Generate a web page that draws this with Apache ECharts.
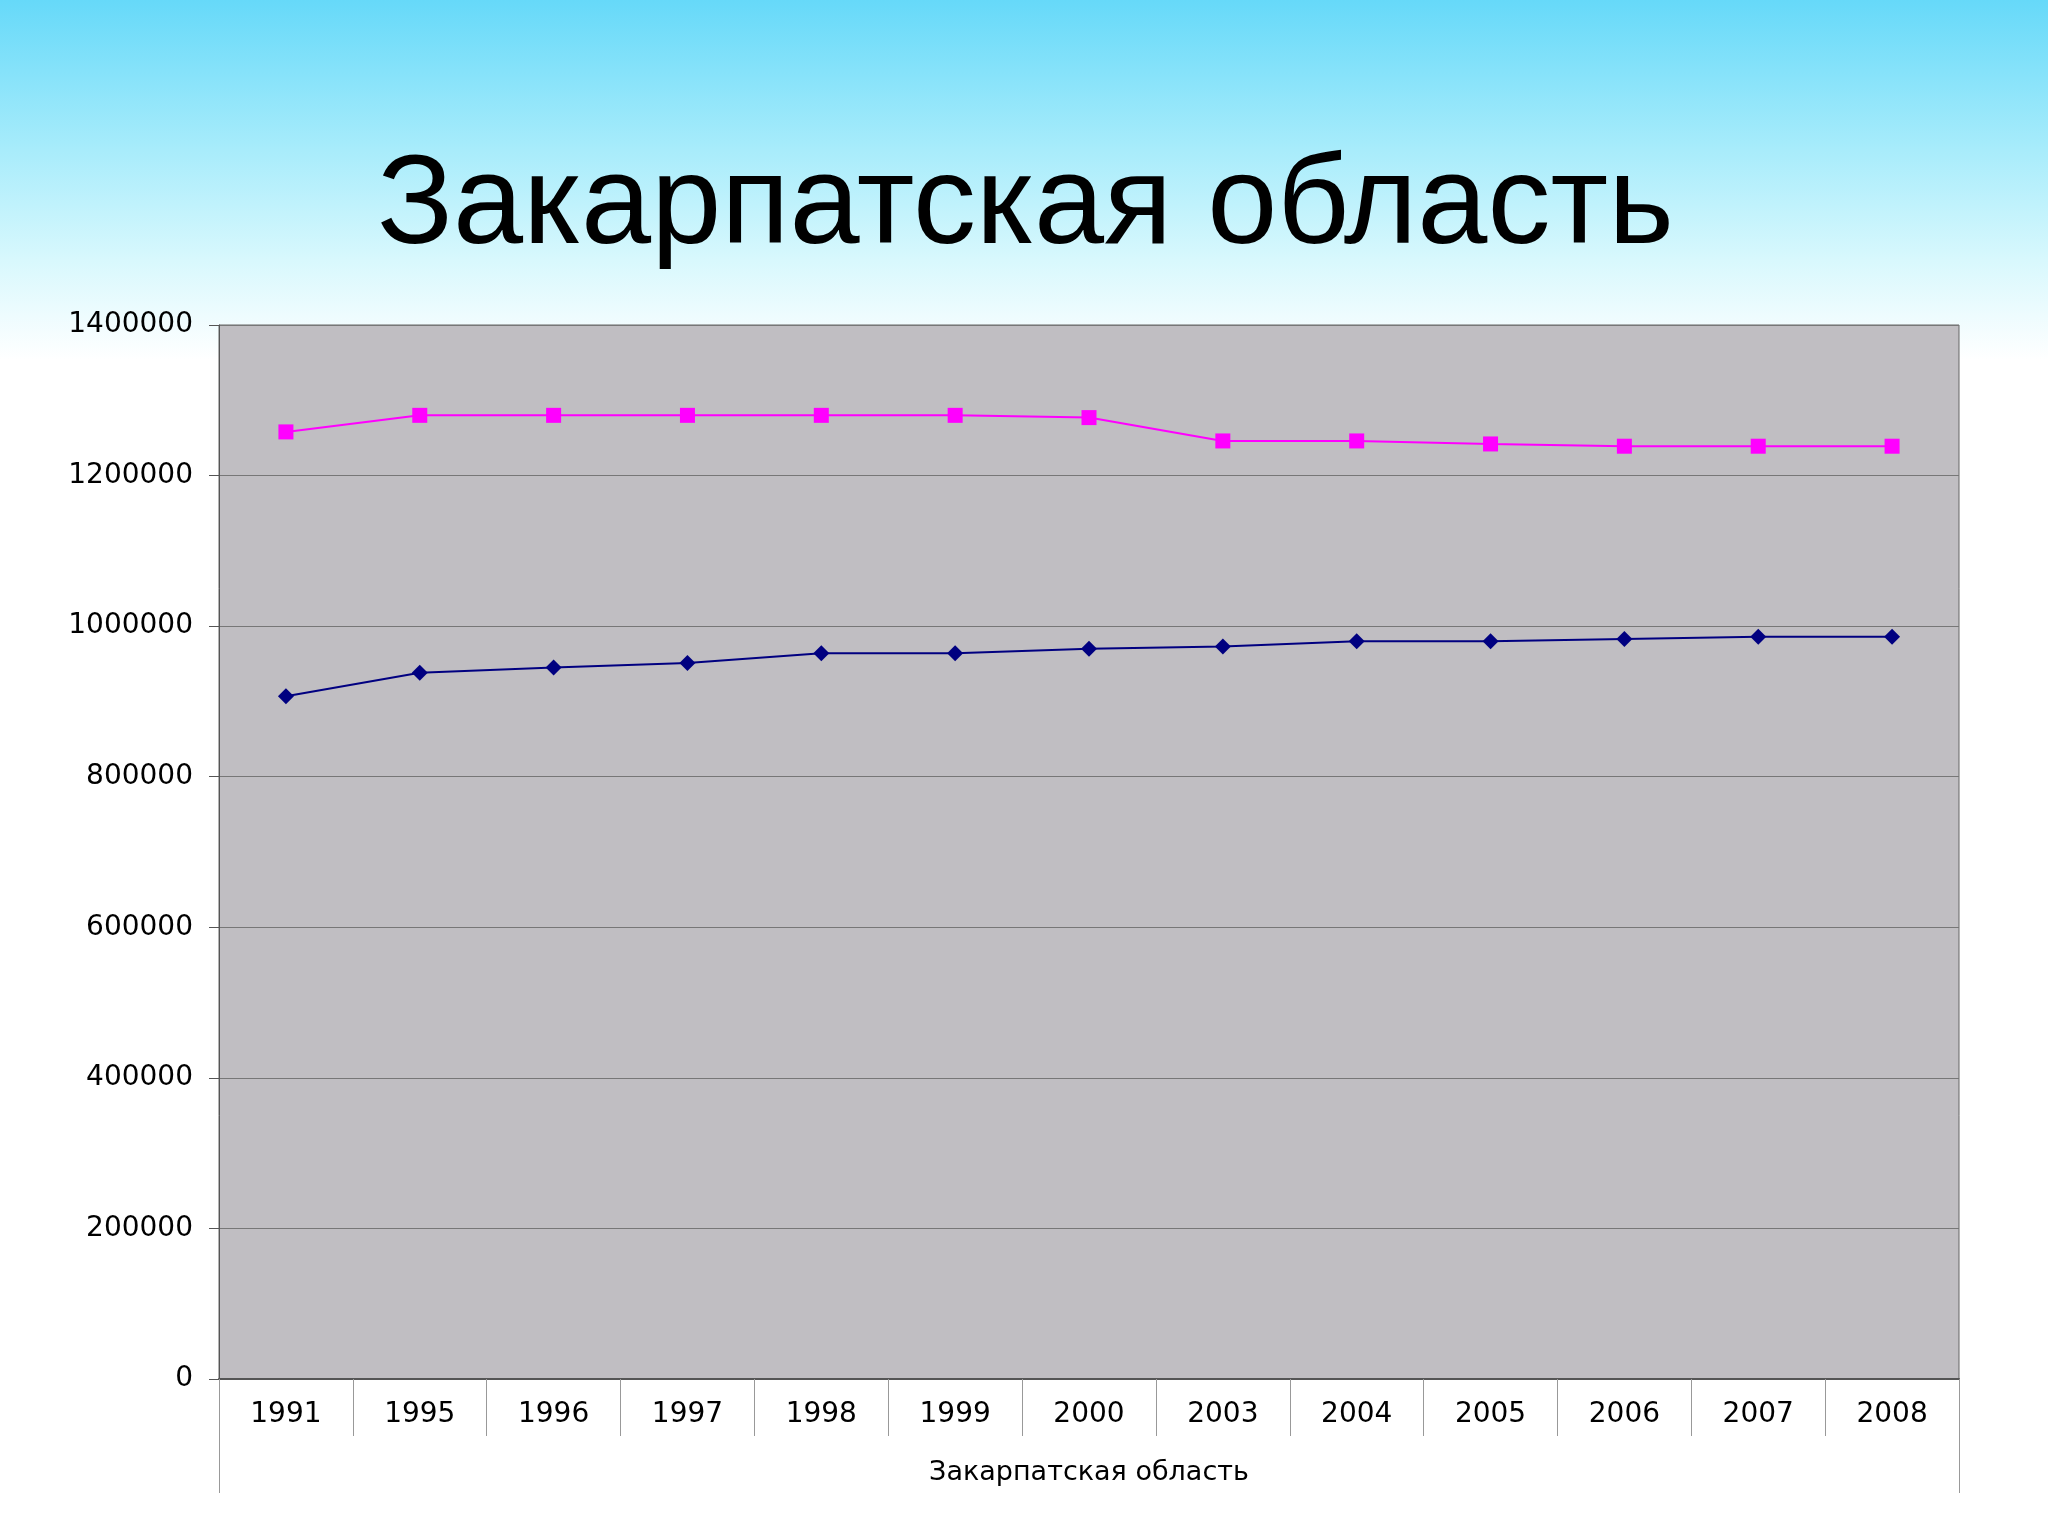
<!DOCTYPE html>
<html>
<head>
    <meta charset="utf-8">
    <title>Закарпатская область</title>
    <script src="https://cdn.jsdelivr.net/npm/echarts@6/dist/echarts.min.js"></script>
    <style>
        html, body { margin: 0; padding: 0; }
        body { background: linear-gradient(to bottom, #66d9f9 0px, #a8ecfb 150px, #d8f8fd 260px, #ffffff 360px); }
    </style>
</head>
<body>
<div id="chart" style="width: 2048px;height: 1536px"></div>
<script>
    // годы
    var years = ['1991','1995','1996','1997','1998','1999','2000','2003','2004','2005','2006','2007','2008'];
    // розовая линия (квадраты)
    var pinkValues = [1258000,1280000,1280000,1280000,1280000,1280000,1277000,1246000,1246000,1242000,1239000,1239000,1239000];
    // синяя линия (ромбы)
    var blueValues = [907000,938000,945000,951000,964000,964000,970000,973000,980000,980000,983000,986000,986000];

    var myChart = echarts.init(document.getElementById('chart'));
    var font = 'Liberation Sans, Arial, sans-serif';
    var axisFont = 'DejaVu Sans, sans-serif';
    myChart.setOption({
        animation: false,
        backgroundColor: 'transparent',
        title: {
            text: 'Закарпатская область',
            left: 372,
            top: 140,
            textStyle: { fontFamily: font, fontSize: 126, fontWeight: 'normal', color: '#000' }
        },
        grid: { left: 219, right: 89, top: 325, bottom: 157, backgroundColor: '#c0bec2', show: true, borderColor: '#666', borderWidth: 1 },
        xAxis: [{
            type: 'category',
            data: years,
            axisLine: { lineStyle: { color: '#555', width: 2 } },
            axisTick: { show: true, interval: 0, length: 57, lineStyle: { color: '#999' } },
            axisLabel: { fontFamily: axisFont, fontSize: 28, color: '#000', margin: 22 }
        }, {
            type: 'category',
            data: ['Закарпатская область'],
            position: 'bottom',
            axisLine: { show: false },
            axisTick: { show: true, interval: 0, length: 114, lineStyle: { color: '#999' } },
            axisLabel: { fontFamily: axisFont, fontSize: 27, color: '#000', margin: 80 }
        }],
        yAxis: {
            type: 'value',
            min: 0,
            max: 1400000,
            interval: 200000,
            axisLine: { show: true, lineStyle: { color: '#555' } },
            axisTick: { show: true, length: 10, lineStyle: { color: '#555' } },
            axisLabel: { fontFamily: axisFont, fontSize: 28, color: '#000', margin: 26, formatter: function (v) { return String(v); } },
            splitLine: { lineStyle: { color: '#777', width: 1 } }
        },
        series: [{
            type: 'line',
            data: pinkValues,
            color: '#ff00ff',
            symbol: 'rect',
            symbolSize: 15,
            lineStyle: { width: 2, color: '#ff00ff' }
        }, {
            type: 'line',
            data: blueValues,
            color: '#000080',
            symbol: 'diamond',
            symbolSize: [16, 16],
            lineStyle: { width: 2, color: '#000080' }
        }]
    });
</script>
</body>
</html>
